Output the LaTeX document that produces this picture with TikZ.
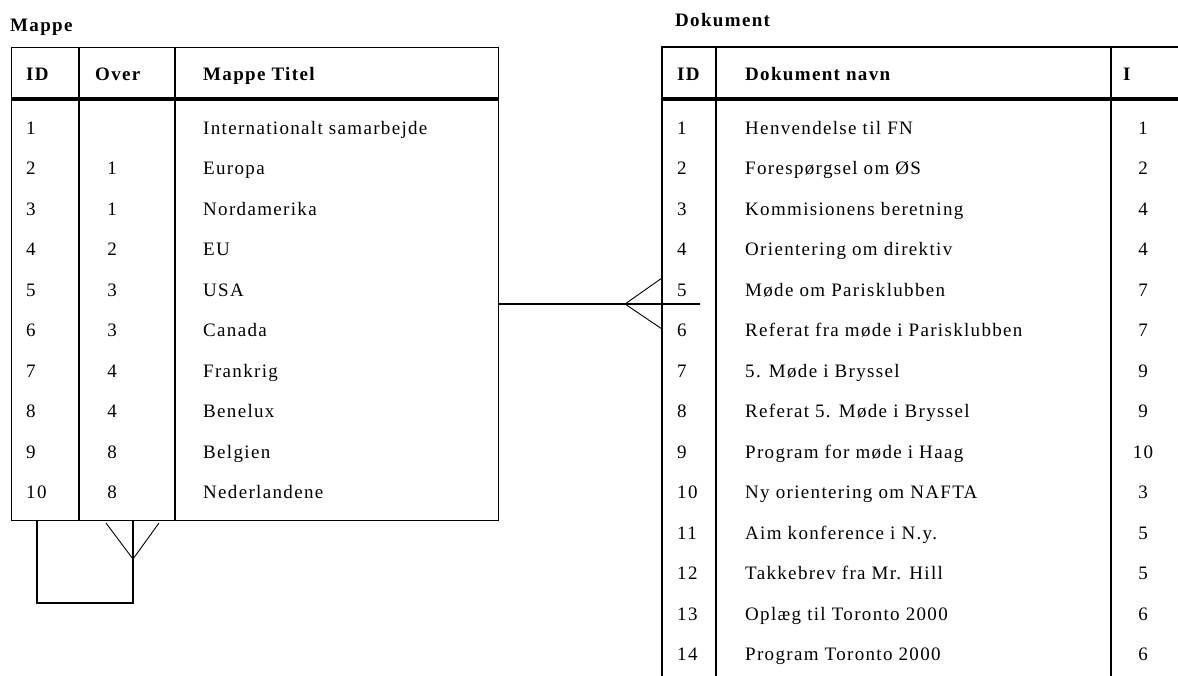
\documentclass[tikz,border=0pt]{standalone}
\usepackage{fontspec}
\setmainfont{Liberation Serif}[LetterSpace=7]
\begin{document}
\begin{tikzpicture}[x=1pt,y=-1pt,
  txt/.style={inner sep=0pt, font=\fontsize{19}{22}\selectfont},
  cellL/.style={txt, anchor=base west},
  cellC/.style={txt, anchor=base},
  head/.style={txt, anchor=base west, font=\fontsize{19}{22}\selectfont\bfseries},
  frame/.style={line width=1.4pt},
  rule/.style={line width=3.5pt},
  rel/.style={line width=1.1pt},
  foot/.style={line width=0.9pt}]
\useasboundingbox (0,0) rectangle (1178,675);
\clip (0,0) rectangle (1178,675);

% ---------- Mappe table ----------
\node[head] (mappeTitle) at (10,31.5) {Mappe};
\node[frame, draw, anchor=north west, minimum width=487pt, minimum height=473pt, inner sep=0pt] (mappe) at (11,47) {};
\draw[frame] (79,47) -- (79,520);
\draw[frame] (175,47) -- (175,520);
\draw[rule] (11,99) -- (498,99);
\node[head] (mh1) at (26,80) {ID};
\node[head] (mh2) at (95,80) {Over};
\node[head] (mh3) at (203,80) {Mappe Titel};
\foreach \i/\o/\t in {1/{}/Internationalt samarbejde, 2/1/Europa, 3/1/Nordamerika,
  4/2/EU, 5/3/USA, 6/3/Canada, 7/4/Frankrig, 8/4/Benelux, 9/8/Belgien, 10/8/Nederlandene}{
  \pgfmathsetmacro\yy{134+40.5*(\i-1)}
  \node[cellL] (mid\i) at (26,\yy) {\i};
  \node[cellC] (mov\i) at (112,\yy) {\o};
  \node[cellL] (mti\i) at (203,\yy) {\t};
}

% ---------- Dokument table ----------
\node[head] (dokTitle) at (675,26.5) {Dokument};
\draw[frame] (1190,47) -- (662,47) -- (662,690);
\draw[frame] (716,47) -- (716,690);
\draw[frame] (1111,47) -- (1111,690);
\draw[rule] (662,99) -- (1190,99);
\node[head] (dh1) at (677,80) {ID};
\node[head] (dh2) at (745,80) {Dokument navn};
\node[head] (dh3) at (1123,80) {I};
\foreach \i/\t/\m in {1/Henvendelse til FN/1, 2/Forespørgsel om ØS/2,
  3/Kommisionens beretning/4, 4/Orientering om direktiv/4,
  5/Møde om Parisklubben/7, 6/Referat fra møde i Parisklubben/7,
  7/5. Møde i Bryssel/9, 8/Referat 5. Møde i Bryssel/9,
  9/Program for møde i Haag/10, 10/Ny orientering om NAFTA/3,
  11/Aim konference i N.y./5, 12/Takkebrev fra Mr. Hill/5,
  13/Oplæg til Toronto 2000/6, 14/Program Toronto 2000/6}{
  \pgfmathsetmacro\yy{134+40.5*(\i-1)}
  \node[cellL] (did\i) at (677,\yy) {\i};
  \node[cellL] (dna\i) at (745,\yy) {\t};
  \node[cellC] (dmp\i) at (1143,\yy) {\m};
}

% ---------- relation Mappe -> Dokument (one to many) ----------
\coordinate (relA) at (498,304);
\coordinate (relB) at (700,304);
\coordinate (relApex) at (625,304);
\coordinate (relP1) at (662,278);
\coordinate (relP2) at (662,329);
\draw[rel] (relA) -- (relB);
\draw[foot] (relP1) -- (relApex) -- (relP2);

% ---------- self relation Mappe (Over) ----------
\coordinate (selfA) at (37,520);
\coordinate (selfB) at (37,603);
\coordinate (selfC) at (133,603);
\coordinate (selfD) at (133,520);
\coordinate (selfApex) at (133,559);
\coordinate (selfP1) at (106,523);
\coordinate (selfP2) at (159,523);
\draw[rel] (selfA) -- (selfB) -- (selfC) -- (selfD);
\draw[foot] (selfP1) -- (selfApex) -- (selfP2);
\end{tikzpicture}
\end{document}
